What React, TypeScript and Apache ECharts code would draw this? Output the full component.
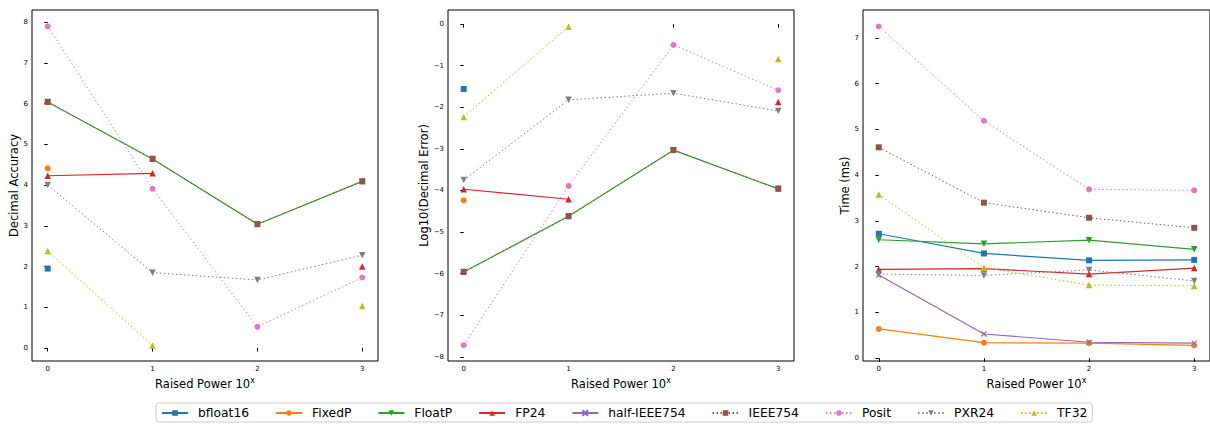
import React, { useEffect, useRef } from "react";
import * as echarts from "echarts";

const xValues = [0, 1, 2, 3];
const seriesNames = ["bfloat16", "FixedP", "FloatP", "FP24", "half-IEEE754", "IEEE754", "Posit", "PXR24", "TF32"];
const colors = ["#1f77b4", "#ff7f0e", "#2ca02c", "#d62728", "#9467bd", "#8c564b", "#e377c2", "#7f7f7f", "#bcbd22"];

// Panel 1: Decimal Accuracy
const accBfloat16 = [1.95, null, null, null];
const accFixedP = [4.41, null, null, null];
const accFloatP = [6.04, 4.64, 3.04, 4.09];
const accFP24 = [4.23, 4.29, null, 2.0];
const accHalf = [null, null, null, null];
const accIEEE754 = [6.04, 4.64, 3.04, 4.09];
const accPosit = [7.9, 3.91, 0.52, 1.73];
const accPXR24 = [4.0, 1.85, 1.67, 2.28];
const accTF32 = [2.38, 0.06, null, 1.03];

// Panel 2: Log10(Decimal Error)
const errBfloat16 = [-1.56, null, null, null];
const errFixedP = [-4.24, null, null, null];
const errFloatP = [-5.96, -4.62, -3.03, -3.96];
const errFP24 = [-3.97, -4.21, null, -1.87];
const errHalf = [null, null, null, null];
const errIEEE754 = [-5.96, -4.62, -3.03, -3.96];
const errPosit = [-7.72, -3.89, -0.5, -1.59];
const errPXR24 = [-3.75, -1.82, -1.66, -2.09];
const errTF32 = [-2.23, -0.06, null, -0.84];

// Panel 3: Time (ms)
const timeBfloat16 = [2.72, 2.29, 2.14, 2.15];
const timeFixedP = [0.64, 0.34, 0.33, 0.28];
const timeFloatP = [2.59, 2.5, 2.58, 2.38];
const timeFP24 = [1.94, 1.96, 1.84, 1.97];
const timeHalf = [1.82, 0.53, 0.35, 0.33];
const timeIEEE754 = [4.61, 3.4, 3.07, 2.85];
const timePosit = [7.25, 5.19, 3.69, 3.67];
const timePXR24 = [1.84, 1.81, 1.93, 1.69];
const timeTF32 = [3.58, 1.98, 1.6, 1.58];

const accTicks = [0, 1, 2, 3, 4, 5, 6, 7, 8];
const errTicks = [-8, -7, -6, -5, -4, -3, -2, -1, 0];
const timeTicks = [0, 1, 2, 3, 4, 5, 6, 7];

const panels = [
  { title: "Decimal Accuracy", data: [accBfloat16, accFixedP, accFloatP, accFP24, accHalf, accIEEE754, accPosit, accPXR24, accTF32], ticks: accTicks, min: -0.32, max: 8.3, nameGap: 12 },
  { title: "Log10(Decimal Error)", data: [errBfloat16, errFixedP, errFloatP, errFP24, errHalf, errIEEE754, errPosit, errPXR24, errTF32], ticks: errTicks, min: -8.1, max: 0.34, nameGap: 18 },
  { title: "Time (ms)", data: [timeBfloat16, timeFixedP, timeFloatP, timeFP24, timeHalf, timeIEEE754, timePosit, timePXR24, timeTF32], ticks: timeTicks, min: -0.06, max: 7.61, nameGap: 11 },
];

const symbols = [
  "rect",
  "circle",
  "path://M0,0L10,0L5,10Z",
  "triangle",
  "path://M0,0L10,10M10,0L0,10",
  "rect",
  "circle",
  "path://M0,0L10,0L5,10Z",
  "triangle",
];
const dotted = [false, false, false, false, false, true, true, true, true];

const FONT = "DejaVu Sans";

export default function App() {
  const ref = useRef<HTMLDivElement>(null);
  useEffect(() => {
    document.body.style.margin = "0";
    const chart = echarts.init(ref.current!, null, { renderer: "svg" });
    const gridLefts = [32, 448, 863];
    const gridWidths = [346, 346, 347];
    const grids = gridLefts.map((l, i) => ({ left: l, top: 10, width: gridWidths[i], height: 351, show: true, borderColor: "#000", borderWidth: 1, backgroundColor: "transparent" }));
    const fmt = (v: number) => (v < 0 ? "\u2212" + Math.abs(v) : String(v));
    const xAxes = panels.map((p, i) => ({
      type: "value",
      gridIndex: i,
      min: -0.15,
      max: 3.15,
      axisLine: { show: false },
      splitLine: { show: false },
      axisTick: { show: true, length: 3.5, lineStyle: { color: "#000" }, customValues: xValues },
      axisLabel: { color: "#000", fontSize: 7, fontFamily: FONT, margin: 4, customValues: xValues, formatter: fmt },
      name: "Raised Power 10{sup|x}",
      nameLocation: "middle",
      nameGap: 13,
      nameTextStyle: {
        fontSize: 11.5,
        fontFamily: FONT,
        color: "#000",
        rich: { sup: { fontSize: 8, fontFamily: FONT, color: "#000", verticalAlign: "top", padding: [0, 0, 6, 0] } },
      },
    }));
    const yAxes = panels.map((p, i) => ({
      type: "value",
      gridIndex: i,
      min: p.min,
      max: p.max,
      axisLine: { show: false },
      splitLine: { show: false },
      axisTick: { show: true, length: 3.5, lineStyle: { color: "#000" }, customValues: p.ticks },
      axisLabel: { color: "#000", fontSize: 7, fontFamily: FONT, margin: 4, customValues: p.ticks, formatter: fmt },
      name: p.title,
      nameLocation: "middle",
      nameGap: p.nameGap,
      nameTextStyle: { fontSize: 11.5, fontFamily: FONT, color: "#000" },
    }));
    const series: any[] = [];
    panels.forEach((p, pi) => {
      p.data.forEach((vals, si) => {
        const isX = si === 4;
        const isTri = symbols[si].includes("Z") || symbols[si] === "triangle";
        series.push({
          type: "line",
          name: seriesNames[si],
          xAxisIndex: pi,
          yAxisIndex: pi,
          data: xValues.map((x, k) => [x, vals[k] === null ? null : vals[k]]),
          connectNulls: false,
          symbol: symbols[si],
          symbolSize: isTri ? 6.5 : isX ? 5 : 6,
          showSymbol: true,
          color: colors[si],
          lineStyle: { color: colors[si], width: dotted[si] ? 1 : 1.2, type: dotted[si] ? [1.5, 2.5] : "solid" },
          itemStyle: isX
            ? { color: colors[si], borderColor: colors[si], borderWidth: 1.2 }
            : { color: colors[si] },
          emphasis: { disabled: true },
        });
      });
    });
    chart.setOption({
      animation: false,
      grid: grids,
      xAxis: xAxes,
      yAxis: yAxes,
      series,
      legend: {
        data: seriesNames,
        left: 156,
        top: 403,
        orient: "horizontal",
        itemWidth: 26,
        itemHeight: 7,
        itemGap: 26,
        padding: [4, 5, 3, 5],
        borderColor: "#cccccc",
        borderWidth: 1,
        borderRadius: 3,
        textStyle: { fontSize: 12.3, fontFamily: FONT, color: "#000", padding: [0, 0, 0, 5] },
        selectedMode: false,
      },
    });
    return () => chart.dispose();
  }, []);
  return <div ref={ref} style={{ width: 1210, height: 425, position: "absolute", left: 0, top: 0 }} />;
}
